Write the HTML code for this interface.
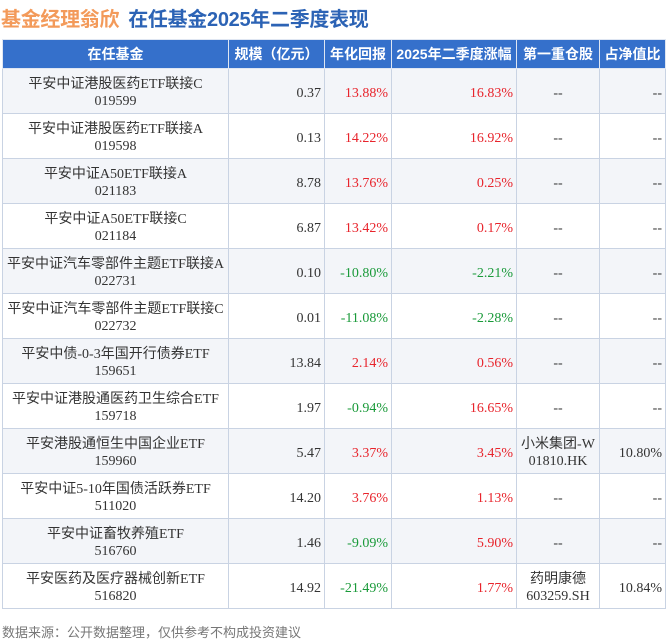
<!DOCTYPE html>
<html><head><meta charset="utf-8"><style>
body{margin:0;width:667px;height:640px;background:#fff;font-family:"Liberation Serif","Noto Sans CJK SC",sans-serif;overflow:hidden;position:relative}
.t{position:absolute;left:1px;top:3px;font-family:"Liberation Sans","Noto Sans CJK SC",sans-serif;font-weight:bold;font-size:20px;letter-spacing:-0.3px}
.t .a{color:#f39a5a}.t .b{color:#2c63b5;margin-left:9px}
table{position:absolute;left:2px;top:39px;border-collapse:collapse;table-layout:fixed;width:663px}
td,th{border:1px solid #c9d3e3;font-size:14px;line-height:17px;padding:0 3px}
th{background:#3570cb;color:#fff;height:28px;font-weight:bold;font-family:"Liberation Sans","Noto Sans CJK SC",sans-serif;font-size:14px;border-color:#dfe6f2}
td{height:40px;padding-top:4px;color:#333}
tr:nth-child(odd) td{background:#f3f5f9}
.c{text-align:center}.r{text-align:right}
.red{color:#e8242c}.g{color:#1a9a3a}
.f{position:absolute;left:2px;top:622px;font-size:13px;color:#777;font-family:"Liberation Sans","Noto Sans CJK SC",sans-serif}
</style></head><body>
<div class="t"><span class="a">基金经理翁欣</span><span class="b">在任基金2025年二季度表现</span></div>
<table>
<colgroup><col style="width:226px"><col style="width:96px"><col style="width:67px"><col style="width:125px"><col style="width:83px"><col style="width:66px"></colgroup>
<thead><tr><th>在任基金</th><th>规模（亿元）</th><th>年化回报</th><th>2025年二季度涨幅</th><th>第一重仓股</th><th>占净值比</th></tr></thead>
<tbody>
<tr><td class="c">平安中证港股医药ETF联接C<br>019599</td><td class="r">0.37</td><td class="r red">13.88%</td><td class="r red">16.83%</td><td class="c">--</td><td class="r">--</td></tr>
<tr><td class="c">平安中证港股医药ETF联接A<br>019598</td><td class="r">0.13</td><td class="r red">14.22%</td><td class="r red">16.92%</td><td class="c">--</td><td class="r">--</td></tr>
<tr><td class="c">平安中证A50ETF联接A<br>021183</td><td class="r">8.78</td><td class="r red">13.76%</td><td class="r red">0.25%</td><td class="c">--</td><td class="r">--</td></tr>
<tr><td class="c">平安中证A50ETF联接C<br>021184</td><td class="r">6.87</td><td class="r red">13.42%</td><td class="r red">0.17%</td><td class="c">--</td><td class="r">--</td></tr>
<tr><td class="c">平安中证汽车零部件主题ETF联接A<br>022731</td><td class="r">0.10</td><td class="r g">-10.80%</td><td class="r g">-2.21%</td><td class="c">--</td><td class="r">--</td></tr>
<tr><td class="c">平安中证汽车零部件主题ETF联接C<br>022732</td><td class="r">0.01</td><td class="r g">-11.08%</td><td class="r g">-2.28%</td><td class="c">--</td><td class="r">--</td></tr>
<tr><td class="c">平安中债-0-3年国开行债券ETF<br>159651</td><td class="r">13.84</td><td class="r red">2.14%</td><td class="r red">0.56%</td><td class="c">--</td><td class="r">--</td></tr>
<tr><td class="c">平安中证港股通医药卫生综合ETF<br>159718</td><td class="r">1.97</td><td class="r g">-0.94%</td><td class="r red">16.65%</td><td class="c">--</td><td class="r">--</td></tr>
<tr><td class="c">平安港股通恒生中国企业ETF<br>159960</td><td class="r">5.47</td><td class="r red">3.37%</td><td class="r red">3.45%</td><td class="c">小米集团-W<br>01810.HK</td><td class="r">10.80%</td></tr>
<tr><td class="c">平安中证5-10年国债活跃券ETF<br>511020</td><td class="r">14.20</td><td class="r red">3.76%</td><td class="r red">1.13%</td><td class="c">--</td><td class="r">--</td></tr>
<tr><td class="c">平安中证畜牧养殖ETF<br>516760</td><td class="r">1.46</td><td class="r g">-9.09%</td><td class="r red">5.90%</td><td class="c">--</td><td class="r">--</td></tr>
<tr><td class="c">平安医药及医疗器械创新ETF<br>516820</td><td class="r">14.92</td><td class="r g">-21.49%</td><td class="r red">1.77%</td><td class="c">药明康德<br>603259.SH</td><td class="r">10.84%</td></tr>
</tbody></table>
<div class="f">数据来源：公开数据整理，仅供参考不构成投资建议</div>
</body></html>
